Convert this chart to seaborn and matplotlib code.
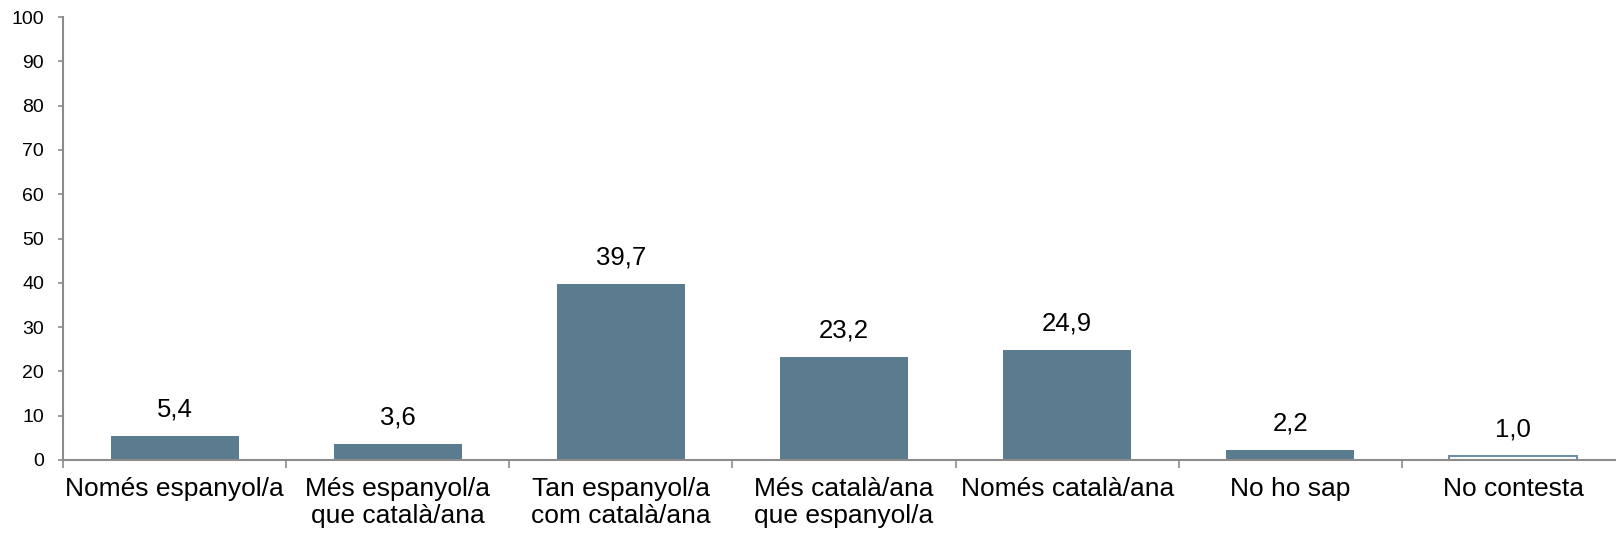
import matplotlib
matplotlib.use("Agg")
import matplotlib.pyplot as plt
import seaborn as sns
import pandas as pd
import numpy as np

categories = ["Només espanyol/a", "Més espanyol/a\nque català/ana", "Tan espanyol/a\ncom català/ana",
              "Més català/ana\nque espanyol/a", "Només català/ana", "No ho sap", "No contesta"]
values = [5.4, 3.6, 39.7, 23.2, 24.9, 2.2, 1.0]
value_labels = ["5,4", "3,6", "39,7", "23,2", "24,9", "2,2", "1,0"]
yticks = [0, 10, 20, 30, 40, 50, 60, 70, 80, 90, 100]

sns.set_theme(style="white")
plt.rcParams['font.family'] = ['Liberation Sans', 'DejaVu Sans']

W, H = 1616, 540
fig = plt.figure(figsize=(W / 100, H / 100), dpi=100)
ax = fig.add_axes([63 / W, 80 / H, (1625 - 63) / W, (460 - 17) / H])

bar_color = "#5B7B8E"
df = pd.DataFrame({"cat": categories, "val": values})
sns.barplot(data=df, x="cat", y="val", hue="cat", palette=[bar_color] * len(categories),
            legend=False, width=0.574, ax=ax, saturation=1, linewidth=0)

# last bar: white with outline
last = ax.patches[len(categories) - 1]
last.set_facecolor("white")
last.set_edgecolor("#6E8EA3")
last.set_linewidth(1.5)

ax.set_xlim(-0.5, len(categories) - 0.5)
ax.set_ylim(0, 100)
ax.set_yticks(yticks)
ax.set_yticklabels([str(t) for t in yticks], fontsize=14, color="black")
ax.set_xticks(range(len(categories)))
ax.set_xticklabels(categories, fontsize=19, color="black", linespacing=1.17)
ax.set_xticks(np.arange(-0.5, len(categories) + 0.5, 1), minor=True)
ax.tick_params(axis="x", which="major", length=0, pad=12)
ax.tick_params(axis="x", which="minor", length=5.5, width=1.2, color="#8C8C8C", direction="out", bottom=True)
ax.tick_params(axis="y", which="major", length=3.6, width=1.2, color="#8C8C8C", direction="out", left=True, pad=10)
ax.set_xlabel("")
ax.set_ylabel("")

for s in ["top", "right"]:
    ax.spines[s].set_visible(False)
for s in ["left", "bottom"]:
    ax.spines[s].set_color("#8C8C8C")
    ax.spines[s].set_linewidth(1.5)

for i, (v, lab) in enumerate(zip(values, value_labels)):
    ax.annotate(lab, (i, v), xytext=(0, 14), textcoords="offset points",
                ha="center", va="baseline", fontsize=18.5, color="black")

fig.savefig("out.png", dpi=100)
